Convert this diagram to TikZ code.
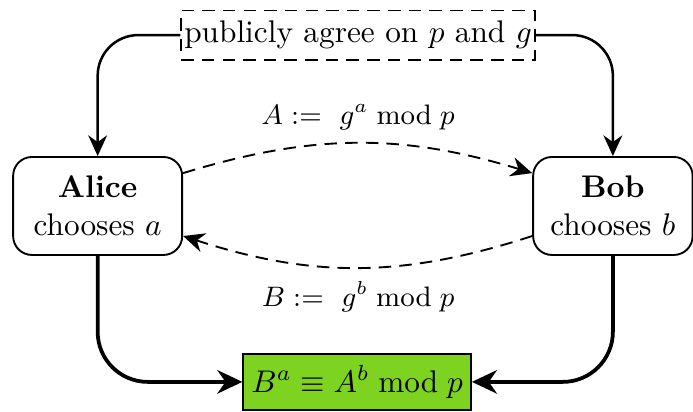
\documentclass[tikz,border=0pt]{standalone}
\usepackage{amsmath}
\usetikzlibrary{arrows.meta,positioning}
\definecolor{keygreen}{RGB}{126,211,33}
\begin{document}
\begin{tikzpicture}[x=1pt,y=1pt,
  party/.style={draw,semithick,rounded corners=6pt,align=center,inner sep=5.5pt,minimum height=31.3pt},
  agreebox/.style={draw,semithick,dash pattern=on 4pt off 2.6pt,inner xsep=1pt,inner ysep=3.33pt},
  resultbox/.style={draw,semithick,fill=keygreen,font=\fontsize{10.4}{12.5}\selectfont,inner xsep=2.6pt,inner ysep=3.33pt,minimum height=17.7pt},
  toparrow/.style={-{Stealth[length=6.6pt,width=6pt]},thick,rounded corners=13pt},
  botarrow/.style={-{Stealth[length=8pt,width=7.5pt]},very thick,rounded corners=16pt},
  msgarrow/.style={-{Stealth[length=6.8pt,width=6.2pt]},semithick,dash pattern=on 4pt off 2.6pt},
  msglabel/.style={inner sep=0pt,font=\small}]
\useasboundingbox (0,0) rectangle (221.4,-131.6);
\node[agreebox] (agree) at (114.4,-11.2) {publicly agree on $p$ and $g$};
\node[party,minimum width=54pt] (alice) at (31.2,-65.8) {\textbf{Alice}\\chooses $a$};
\node[party,minimum width=50.5pt] (bob) at (195.8,-65.8) {\textbf{Bob}\\chooses $b$};
\node[resultbox] (result) at (114.1,-122) {$B^a \equiv A^b \bmod p$};
\node[msglabel] (la) at (114.4,-37.4) {$A :=\ g^a \bmod p$};
\node[msglabel] (lb) at (114.4,-94.9) {$B :=\ g^b \bmod p$};
\draw[toparrow] (agree.west) -| (alice.north);
\draw[toparrow] (agree.east) -| (bob.north);
\draw[botarrow] (alice.south) |- (result.west);
\draw[botarrow] (bob.south) |- (result.east);
\draw[msgarrow] ([yshift=10.5pt]alice.east) to[bend left=17] ([yshift=10.5pt]bob.west);
\draw[msgarrow] ([yshift=-9.6pt]bob.west) to[bend left=18] ([yshift=-9.6pt]alice.east);
\end{tikzpicture}
\end{document}
